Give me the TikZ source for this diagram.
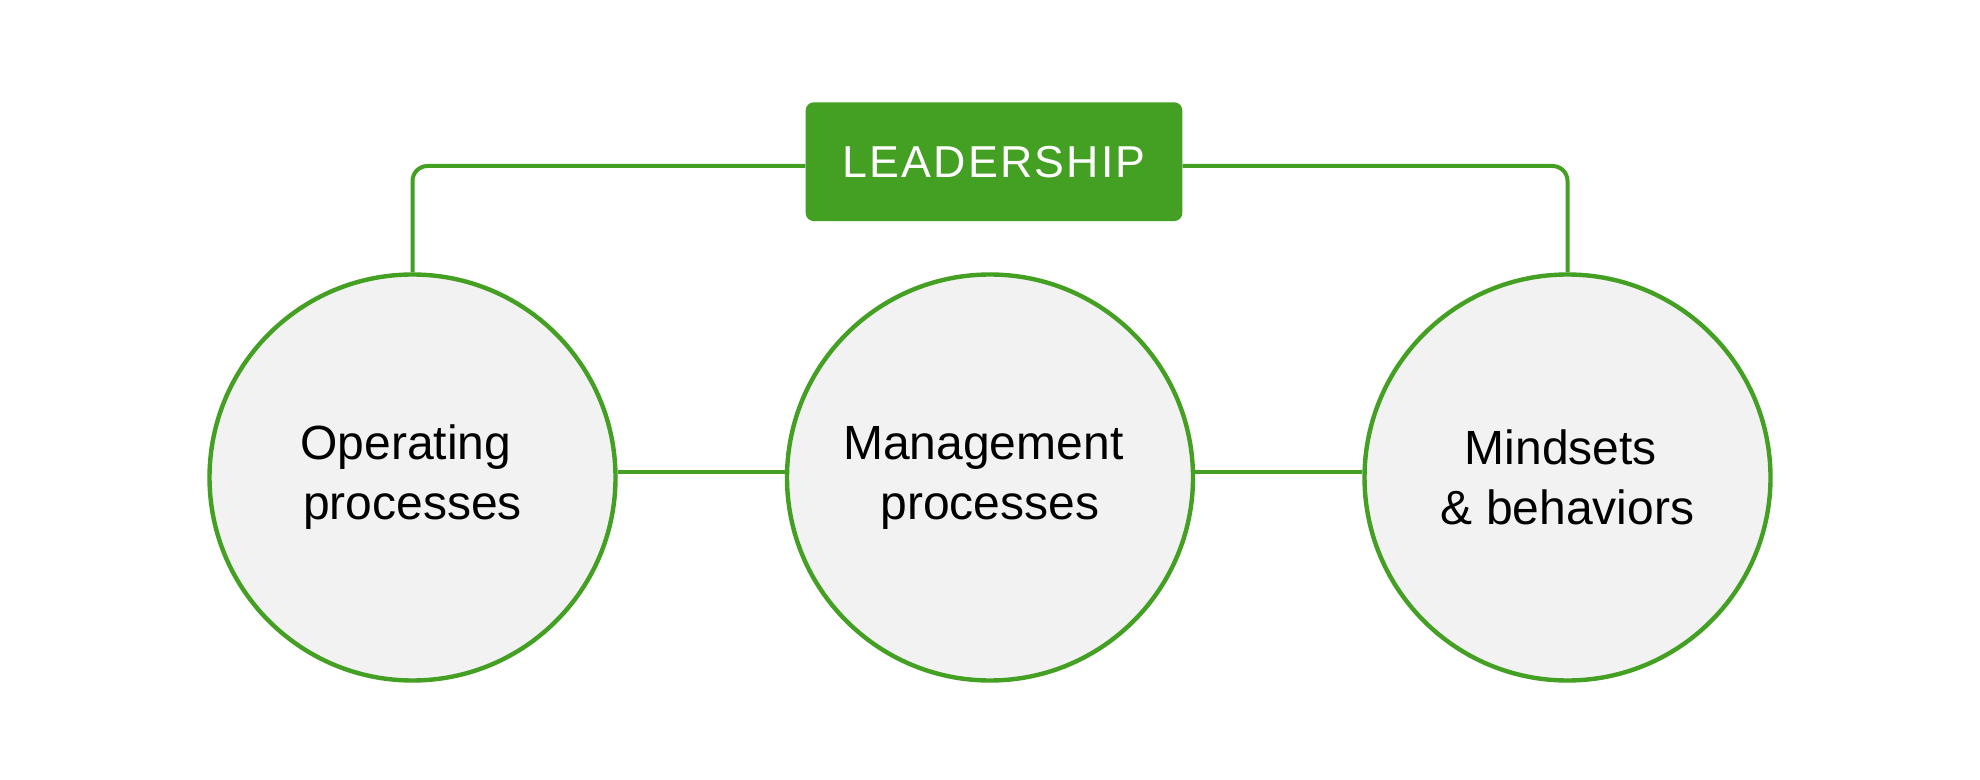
\documentclass[tikz,border=0pt]{standalone}
\usepackage{fontspec}
\setmainfont{Liberation Sans}
\newfontfamily\leadfont[LetterSpace=5]{Liberation Sans}
\definecolor{lgreen}{HTML}{43A023}
\definecolor{lgrey}{HTML}{F2F2F2}
\begin{document}
\begin{tikzpicture}[x=0.5pt,y=-0.5pt,
  topic/.style={circle,draw=lgreen,fill=lgrey,line width=2.2pt,minimum size=203pt,inner sep=0pt,
    align=center,font=\fontsize{24pt}{30pt}\selectfont,text=black},
  leadbox/.style={rectangle,rounded corners=4pt,fill=lgreen,minimum width=188.3pt,minimum height=59.35pt,
    inner sep=0pt,text=white,font=\leadfont\fontsize{22.35pt}{26pt}\selectfont},
  link/.style={draw=lgreen,line width=2pt}]
\useasboundingbox (0,0) rectangle (1980,780);
\fill[white] (0,0) rectangle (1980,780);
\node[leadbox] (L) at (994,161.7) {LEADERSHIP};
\node[topic] (a) at (412.5,477.5) {Operating\kern0.278em\\processes};
\node[topic] (b) at (990,477.5) {Management\kern0.278em\\processes};
\node[topic] (c) at (1567.5,477.5) {Mindsets\kern0.278em\\\& behaviors};
\draw[link,rounded corners=7.5pt] (a.north) |- ([yshift=-2.15pt]L.west);
\draw[link,rounded corners=7.5pt] (c.north) |- ([yshift=-2.15pt]L.east);
\draw[link] ([yshift=2.75pt]a.east) -- ([yshift=2.75pt]b.west);
\draw[link] ([yshift=2.75pt]b.east) -- ([yshift=2.75pt]c.west);
\end{tikzpicture}
\end{document}
